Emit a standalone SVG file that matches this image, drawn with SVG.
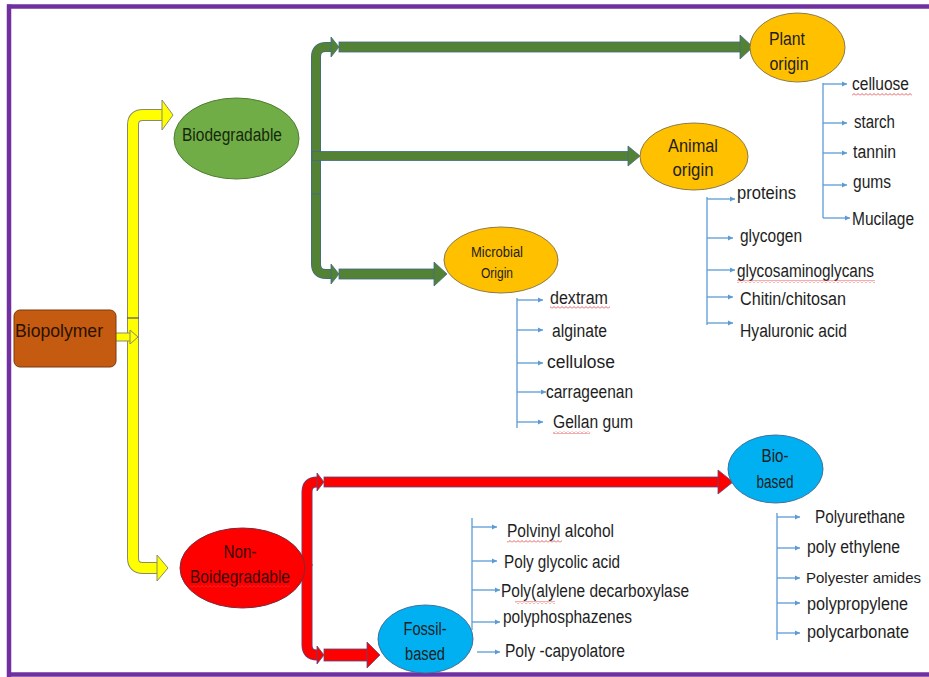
<svg xmlns="http://www.w3.org/2000/svg" width="929" height="677" viewBox="0 0 929 677">
<style>
  .lbl { font-family: "Liberation Sans", Arial, sans-serif; fill: #1e1e1e; }
  .item { font-family: "Liberation Sans", Arial, sans-serif; font-size: 18px; fill: #1e1e1e; }
  .thin { stroke: #5B9BD5; stroke-width: 1.3; fill: none; }
  .tarr { stroke: #5B9BD5; stroke-width: 1.3; fill: none; marker-end: url(#ah); }
  .yo { fill: none; stroke: #8a8a6a; stroke-linejoin: round; }
  .yi { fill: none; stroke: #FFFF00; stroke-linejoin: round; }
  .go { fill: none; stroke: #3f6a8a; stroke-linejoin: round; }
  .gi { fill: none; stroke: #548235; stroke-linejoin: round; }
  .ro { fill: none; stroke: #5a4a80; stroke-linejoin: round; }
  .ri { fill: none; stroke: #FF0000; stroke-linejoin: round; }
  .yh { fill: #FFFF00; stroke: #8a8a6a; stroke-width: 1; }
  .gh { fill: #548235; stroke: #3f6a8a; stroke-width: 0.8; }
  .rh { fill: #FF0000; stroke: #5a4a80; stroke-width: 0.8; }
  .sq { fill: url(#sq); }
</style>
<defs>
  <marker id="ah" markerWidth="6" markerHeight="6" refX="5" refY="3" orient="auto" markerUnits="userSpaceOnUse">
    <path d="M0,0.5 L5,3 L0,5.5 z" fill="#5B9BD5"/>
  </marker>
  <pattern id="sq" width="4" height="3" patternUnits="userSpaceOnUse">
    <path d="M0,2.5 L2,0.5 L4,2.5" stroke="#e03535" stroke-width="0.8" fill="none"/>
  </pattern>
</defs>
<rect width="929" height="677" fill="#ffffff"/>
<!-- purple frame -->
<g id="frame" stroke="#7030A0" stroke-width="4.5" fill="none">
  <line x1="7" y1="6.5" x2="929" y2="6.5"/>
  <line x1="9" y1="4.5" x2="9" y2="677"/>
  <line x1="7" y1="674.5" x2="929" y2="674.5"/>
</g>

<g id="connectors">
  <!-- yellow -->
  <path class="yo" stroke-width="12" d="M133,322 L133,125 Q133,115 143,115 L163,115"/>
  <path class="yi" stroke-width="10" d="M133,322 L133,125 Q133,115 143,115 L163.5,115"/>
  <polygon class="yh" points="162,100 173,115 162,130"/>
  <path class="yo" stroke-width="12" d="M133,316 L133,558 Q133,568 143,568 L157,568"/>
  <path class="yi" stroke-width="10" d="M133,316 L133,558 Q133,568 143,568 L157.5,568"/>
  <polygon class="yh" points="157,555 168,568 157,581"/>
  <line x1="127" y1="318" x2="139" y2="318" stroke="#555" stroke-width="1.2"/>
  <path class="yo" stroke-width="9" d="M116,337 L130,337"/>
  <path class="yi" stroke-width="7" d="M115,337 L130.5,337"/>
  <polygon class="yh" points="130,330 138,337 130,344"/>

  <!-- green -->
  <path class="go" stroke-width="10" d="M316,195 L316,57 Q316,47 326,47 L331,47"/>
  <path class="gi" stroke-width="8.5" d="M316,195 L316,57 Q316,47 326,47 L331.5,47"/>
  <polygon class="gh" points="331,37 339,47 331,57"/>
  <rect x="339" y="42" width="402" height="10" fill="#548235" stroke="#3f6a8a" stroke-width="0.8"/>
  <polygon class="gh" points="740,35 753,47 740,59"/>
  <rect x="312" y="151.5" width="318" height="9" fill="#548235" stroke="#3f6a8a" stroke-width="0.8"/>
  <polygon class="gh" points="628,146 640,156 628,166"/>
  <path class="go" stroke-width="10" d="M316,192 L316,264 Q316,274 326,274 L332,274"/>
  <path class="gi" stroke-width="8.5" d="M316,192 L316,264 Q316,274 326,274 L332.5,274"/>
  <polygon class="gh" points="331,264 339,274 331,284"/>
  <rect x="339" y="269" width="97" height="10" fill="#548235" stroke="#3f6a8a" stroke-width="0.8"/>
  <polygon class="gh" points="434,262 447,274 434,286"/>
  <line x1="311" y1="194" x2="321" y2="194" stroke="#3f6a8a" stroke-width="1"/>

  <!-- red -->
  <path class="ro" stroke-width="11" d="M307,566 L307,492 Q307,482 317,482 L318,482"/>
  <path class="ri" stroke-width="9.5" d="M307,566 L307,492 Q307,482 317,482 L318.5,482"/>
  <polygon class="rh" points="317,473 324,482 317,491"/>
  <rect x="324" y="477" width="396" height="10" fill="#FF0000" stroke="#5a4a80" stroke-width="0.8"/>
  <polygon class="rh" points="718,470 733,482 718,494"/>
  <path class="ro" stroke-width="11" d="M307,564 L307,645 Q307,655 317,655 L318,655"/>
  <path class="ri" stroke-width="9.5" d="M307,564 L307,645 Q307,655 317,655 L318.5,655"/>
  <polygon class="rh" points="317,646 324,655 317,664"/>
  <rect x="324" y="649" width="45" height="12" fill="#FF0000" stroke="#5a4a80" stroke-width="0.8"/>
  <polygon class="rh" points="367,642 380,655 367,668"/>

  <!-- thin list connectors -->
  <line class="thin" x1="823" y1="83" x2="823" y2="218"/>
  <line class="tarr" x1="823" y1="84" x2="847" y2="84"/>
  <line class="tarr" x1="823" y1="123" x2="847" y2="123"/>
  <line class="tarr" x1="823" y1="153" x2="847" y2="153"/>
  <line class="tarr" x1="823" y1="185" x2="847" y2="185"/>
  <line class="tarr" x1="823" y1="218" x2="850" y2="218"/>

  <line class="thin" x1="707" y1="197" x2="707" y2="325"/>
  <line class="tarr" x1="707" y1="199" x2="735" y2="199"/>
  <line class="tarr" x1="707" y1="238" x2="733" y2="238"/>
  <line class="tarr" x1="707" y1="270" x2="735" y2="270"/>
  <line class="tarr" x1="707" y1="297" x2="733" y2="297"/>
  <line class="tarr" x1="707" y1="323" x2="733" y2="323"/>

  <line class="thin" x1="517" y1="298" x2="517" y2="428"/>
  <line class="tarr" x1="517" y1="300" x2="543" y2="300"/>
  <line class="tarr" x1="517" y1="330" x2="543" y2="330"/>
  <line class="tarr" x1="517" y1="363" x2="543" y2="363"/>
  <line class="tarr" x1="517" y1="392" x2="546" y2="392"/>
  <line class="tarr" x1="517" y1="422" x2="543" y2="422"/>

  <line class="thin" x1="472" y1="518" x2="472" y2="630"/>
  <line class="tarr" x1="472" y1="527" x2="497" y2="527"/>
  <line class="tarr" x1="472" y1="561" x2="497" y2="561"/>
  <line class="tarr" x1="472" y1="590" x2="500" y2="590"/>
  <line class="tarr" x1="472" y1="622" x2="500" y2="622"/>
  <line class="tarr" x1="477" y1="652" x2="500" y2="652"/>

  <line class="thin" x1="777" y1="513" x2="777" y2="640"/>
  <line class="tarr" x1="777" y1="517" x2="800" y2="517"/>
  <line class="tarr" x1="777" y1="548" x2="800" y2="548"/>
  <line class="tarr" x1="777" y1="578" x2="800" y2="578"/>
  <line class="tarr" x1="777" y1="603" x2="800" y2="603"/>
  <line class="tarr" x1="777" y1="633" x2="800" y2="633"/>
</g>

<g id="biopolymer">
  <rect x="14" y="310" width="102" height="57" rx="6" fill="#C55A11" stroke="#7a3a10" stroke-width="1"/>
  <text class="lbl" x="15" y="337" font-size="19" textLength="88" lengthAdjust="spacingAndGlyphs" style="fill:#2a1200">Biopolymer</text>
</g>

<g id="biodegradable">
  <ellipse cx="236.5" cy="138.5" rx="62.5" ry="40.5" fill="#70AD47" stroke="#507e32" stroke-width="1"/>
  <text class="lbl" x="232" y="141" font-size="18" text-anchor="middle" textLength="100" lengthAdjust="spacingAndGlyphs" style="fill:#16280c">Biodegradable</text>
</g>

<g id="non-biodegradable">
  <ellipse cx="242.5" cy="568" rx="62.5" ry="40" fill="#FF0000" stroke="#7a2a3a" stroke-width="1"/>
  <text class="lbl" x="240" y="558" font-size="18" text-anchor="middle" textLength="33" lengthAdjust="spacingAndGlyphs" style="fill:#3a0505">Non-</text>
  <text class="lbl" x="240" y="583" font-size="18" text-anchor="middle" textLength="100" lengthAdjust="spacingAndGlyphs" style="fill:#3a0505">Boidegradable</text>
  <rect class="sq" x="190" y="585" width="100" height="3"/>
</g>

<g id="plant-origin">
  <ellipse cx="797.5" cy="47.5" rx="47.5" ry="34.5" fill="#FFC000" stroke="#8c7a4a" stroke-width="1"/>
  <text class="lbl" x="787" y="45" font-size="18" text-anchor="middle" textLength="36" lengthAdjust="spacingAndGlyphs">Plant</text>
  <text class="lbl" x="789" y="70" font-size="18" text-anchor="middle" textLength="39" lengthAdjust="spacingAndGlyphs">origin</text>
</g>

<g id="animal-origin">
  <ellipse cx="694" cy="156.5" rx="54" ry="33.5" fill="#FFC000" stroke="#8c7a4a" stroke-width="1"/>
  <text class="lbl" x="693" y="152" font-size="19" text-anchor="middle" textLength="50" lengthAdjust="spacingAndGlyphs">Animal</text>
  <text class="lbl" x="693" y="176" font-size="19" text-anchor="middle" textLength="41" lengthAdjust="spacingAndGlyphs">origin</text>
</g>

<g id="microbial-origin">
  <ellipse cx="501" cy="260" rx="57" ry="33" fill="#FFC000" stroke="#8c7a4a" stroke-width="1"/>
  <text class="lbl" x="497" y="257" font-size="14" text-anchor="middle" textLength="52" lengthAdjust="spacingAndGlyphs">Microbial</text>
  <text class="lbl" x="497" y="278" font-size="14" text-anchor="middle" textLength="32" lengthAdjust="spacingAndGlyphs">Origin</text>
</g>

<g id="fossil-based">
  <ellipse cx="425.5" cy="639" rx="47.5" ry="34" fill="#00B0F0" stroke="#41719C" stroke-width="1"/>
  <text class="lbl" x="425" y="635" font-size="18" text-anchor="middle" textLength="43" lengthAdjust="spacingAndGlyphs">Fossil-</text>
  <text class="lbl" x="425" y="660" font-size="18" text-anchor="middle" textLength="40" lengthAdjust="spacingAndGlyphs">based</text>
</g>

<g id="bio-based">
  <ellipse cx="775.5" cy="469" rx="47.5" ry="34" fill="#00B0F0" stroke="#41719C" stroke-width="1"/>
  <text class="lbl" x="775" y="462" font-size="18" text-anchor="middle" textLength="27" lengthAdjust="spacingAndGlyphs">Bio-</text>
  <text class="lbl" x="775" y="488" font-size="18" text-anchor="middle" textLength="37" lengthAdjust="spacingAndGlyphs">based</text>
</g>

<g id="plant-list">
  <text class="item" x="852" y="90" textLength="57" lengthAdjust="spacingAndGlyphs">celluose</text>
  <rect class="sq" x="852" y="93" width="60" height="3"/>
  <text class="item" x="854" y="128" textLength="41" lengthAdjust="spacingAndGlyphs">starch</text>
  <text class="item" x="853" y="158" textLength="43" lengthAdjust="spacingAndGlyphs">tannin</text>
  <text class="item" x="853" y="188" textLength="38" lengthAdjust="spacingAndGlyphs">gums</text>
  <text class="item" x="852" y="225" textLength="62" lengthAdjust="spacingAndGlyphs">Mucilage</text>
</g>

<g id="animal-list">
  <text class="item" x="737" y="199" textLength="59" lengthAdjust="spacingAndGlyphs">proteins</text>
  <text class="item" x="740" y="242" textLength="62" lengthAdjust="spacingAndGlyphs">glycogen</text>
  <text class="item" x="737" y="277" textLength="137" lengthAdjust="spacingAndGlyphs">glycosaminoglycans</text>
  <rect class="sq" x="737" y="280" width="138" height="3"/>
  <text class="item" x="740" y="305" textLength="106" lengthAdjust="spacingAndGlyphs">Chitin/chitosan</text>
  <text class="item" x="740" y="337" textLength="107" lengthAdjust="spacingAndGlyphs">Hyaluronic acid</text>
</g>

<g id="microbial-list">
  <text class="item" x="550" y="304" textLength="58" lengthAdjust="spacingAndGlyphs">dextram</text>
  <rect class="sq" x="550" y="306" width="60" height="3"/>
  <text class="item" x="552" y="337" textLength="55" lengthAdjust="spacingAndGlyphs">alginate</text>
  <text class="item" x="547" y="368" textLength="68" lengthAdjust="spacingAndGlyphs">cellulose</text>
  <text class="item" x="546" y="398" textLength="87" lengthAdjust="spacingAndGlyphs">carrageenan</text>
  <text class="item" x="553" y="428" textLength="80" lengthAdjust="spacingAndGlyphs">Gellan gum</text>
  <rect class="sq" x="553" y="431" width="37" height="3"/>
</g>

<g id="fossil-list">
  <text class="item" x="507" y="537" textLength="107" lengthAdjust="spacingAndGlyphs">Polvinyl alcohol</text>
  <rect class="sq" x="507" y="540" width="55" height="3"/>
  <text class="item" x="504" y="568" textLength="116" lengthAdjust="spacingAndGlyphs">Poly glycolic acid</text>
  <text class="item" x="501" y="597" textLength="188" lengthAdjust="spacingAndGlyphs">Poly(alylene decarboxylase</text>
  <rect class="sq" x="515" y="601" width="40" height="3"/>
  <text class="item" x="503" y="623" textLength="129" lengthAdjust="spacingAndGlyphs">polyphosphazenes</text>
  <text class="item" x="505" y="657" textLength="120" lengthAdjust="spacingAndGlyphs">Poly -capyolatore</text>
</g>

<g id="biobased-list">
  <text class="item" x="815" y="523" textLength="90" lengthAdjust="spacingAndGlyphs">Polyurethane</text>
  <text class="item" x="807" y="553" textLength="93" lengthAdjust="spacingAndGlyphs">poly ethylene</text>
  <text class="item" x="806" y="583" font-size="15" style="font-size:15px">Polyester amides</text>
  <text class="item" x="807" y="610" textLength="101" lengthAdjust="spacingAndGlyphs">polypropylene</text>
  <text class="item" x="807" y="638" textLength="102" lengthAdjust="spacingAndGlyphs">polycarbonate</text>
</g>
</svg>
